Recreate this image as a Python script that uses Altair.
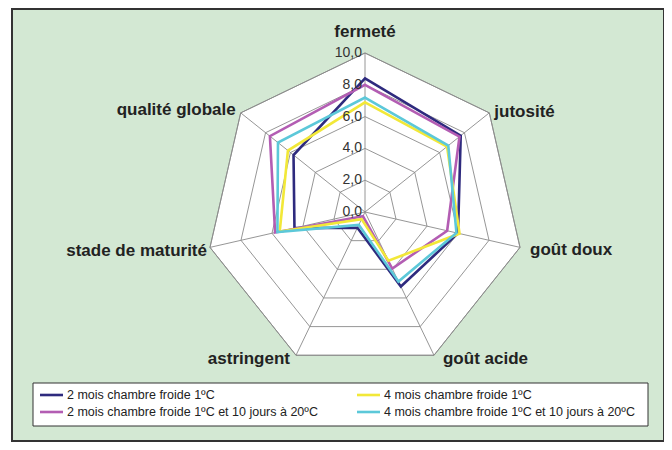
import altair as alt
import pandas as pd

# ---- data ----
categories = ["fermeté", "jutosité", "goût doux", "goût acide", "astringent",
              "stade de maturité", "qualité globale"]
series_names = [
    "2 mois chambre froide 1ºC",
    "2 mois chambre froide 1ºC et 10 jours à 20ºC",
    "4 mois chambre froide 1ºC",
    "4 mois chambre froide 1ºC et 10 jours à 20ºC",
]
s_2m = [8.4, 7.7, 6.0, 5.2, 1.1, 4.55, 5.75]
s_2m10 = [8.0, 7.6, 5.3, 3.95, 0.3, 5.8, 7.65]
s_4m = [6.9, 6.6, 6.1, 3.4, 0.5, 5.5, 6.2]
s_4m10 = [7.2, 6.7, 5.9, 4.85, 0.9, 5.65, 7.0]
ring_values = [2, 4, 6, 8, 10]
tick_values = [0, 2, 4, 6, 8, 10]
tick_labels = ["0,0", "2,0", "4,0", "6,0", "8,0", "10,0"]

colors = ["#2e2a7e", "#b35db3", "#f2e838", "#5cc8d9"]
legend_order = [series_names[0], series_names[2], series_names[1], series_names[3]]
legend_colors = [colors[0], colors[2], colors[1], colors[3]]

N = len(categories)
FONT = "Liberation Sans"

# ---- layout (pixels) ----
W, H = 652, 432
CX, CY = 353, 203          # centre of the radar in plot coordinates
PX = 15.9                  # pixels per unit
xdom = [-CX / PX, (W - CX) / PX]
ydom = [-(H - CY) / PX, CY / PX]
XS = alt.Scale(domain=xdom, nice=False, zero=False)
YS = alt.Scale(domain=ydom, nice=False, zero=False)


def with_xy(ch, val="datum.v"):
    return ch.transform_calculate(ang="2*PI*datum.idx/%d" % N).transform_calculate(
        x=val + "*sin(datum.ang)", y=val + "*cos(datum.ang)")


series_df = pd.DataFrame(
    [{"serie": n, "idx": i, "v": v}
     for n, vals in zip(series_names, [s_2m, s_2m10, s_4m, s_4m10])
     for i, v in enumerate(vals)])
ring_df = pd.DataFrame([{"ring": r, "idx": i, "v": r} for r in ring_values for i in range(N)])
outer_df = pd.DataFrame([{"idx": i, "v": max(ring_values)} for i in range(N)])
spoke_df = pd.DataFrame([{"idx": i, "v": max(ring_values)} for i in range(N)])
tick_df = pd.DataFrame({"v": tick_values, "lab": tick_labels, "idx": [0] * len(tick_values)})

X = alt.X("x:Q", scale=XS, axis=None)
Y = alt.Y("y:Q", scale=YS, axis=None)
GRID = "#8a8a8a"

outer = with_xy(alt.Chart(outer_df)).mark_line(
    interpolate="linear-closed", fill="white", stroke=GRID, strokeWidth=0.9
).encode(x=X, y=Y, order="idx:Q")

rings = with_xy(alt.Chart(ring_df)).mark_line(
    interpolate="linear-closed", stroke=GRID, strokeWidth=0.9
).encode(x=X, y=Y, detail="ring:N", order="idx:Q")

spokes = alt.Chart(spoke_df).transform_calculate(
    ang="2*PI*datum.idx/%d" % N
).transform_calculate(
    x="0", y="0", x2="datum.v*sin(datum.ang)", y2="datum.v*cos(datum.ang)"
).mark_rule(stroke=GRID, strokeWidth=0.9).encode(
    x=X, y=Y, x2="x2:Q", y2="y2:Q")

lines = with_xy(alt.Chart(series_df)).mark_line(
    interpolate="linear-closed", strokeWidth=2.6
).encode(
    x=X, y=Y, order="idx:Q",
    color=alt.Color("serie:N", scale=alt.Scale(domain=legend_order, range=legend_colors),
                    legend=None),
)

ticks = with_xy(alt.Chart(tick_df)).mark_text(
    align="right", baseline="middle", dx=-3, font=FONT, fontSize=14, color="#333333"
).encode(x=X, y=Y, text="lab:N")

# category labels (placement style per label)
label_style = {
    "fermeté": ("center", 0, -21),
    "jutosité": ("left", 5, -1),
    "goût doux": ("left", 10, 3),
    "goût acide": ("left", 9, 4),
    "astringent": ("right", -6, 4),
    "stade de maturité": ("right", -3, 4),
    "qualité globale": ("right", -5, -3),
}
label_layers = []
for i, c in enumerate(categories):
    al, dx, dy = label_style[c]
    df = pd.DataFrame({"idx": [i], "v": [max(ring_values)], "lab": [c]})
    label_layers.append(
        with_xy(alt.Chart(df)).mark_text(
            align=al, baseline="middle", dx=dx, dy=dy, font=FONT, fontSize=17,
            fontWeight="bold", color="#222222"
        ).encode(x=X, y=Y, text="lab:N"))

# ---- legend (drawn as a boxed key) ----
LBOX = (21, 374, 636, 417)
lg_pos = [(28, 386), (345, 386), (28, 403), (345, 403)]   # in legend_order
one = pd.DataFrame({"k": [0]})
legend_layers = [
    alt.Chart(one).mark_rect(fill="white", stroke="#333333", strokeWidth=1).encode(
        x=alt.value(LBOX[0]), x2=alt.value(LBOX[2]),
        y=alt.value(LBOX[1]), y2=alt.value(LBOX[3]))
]
for name, col, (lx, ly) in zip(legend_order, legend_colors, lg_pos):
    d = pd.DataFrame({"serie": [name]})
    legend_layers.append(
        alt.Chart(d).mark_rule(color=col, strokeWidth=2.6).encode(
            x=alt.value(lx), x2=alt.value(lx + 23), y=alt.value(ly)))
    legend_layers.append(
        alt.Chart(d).mark_text(align="left", baseline="middle", font=FONT,
                               fontSize=12.5, color="#222222").encode(
            x=alt.value(lx + 27), y=alt.value(ly), text="serie:N"))

chart = alt.layer(outer, rings, spokes, lines, ticks, *label_layers, *legend_layers).properties(
    width=W, height=H,
    padding={"left": 4, "top": 1, "right": 0, "bottom": 1},
).configure_view(fill="#d3e8d3", stroke="#333333", strokeWidth=2)

chart.save("out.html", embed_options={"renderer": "svg", "actions": False})
